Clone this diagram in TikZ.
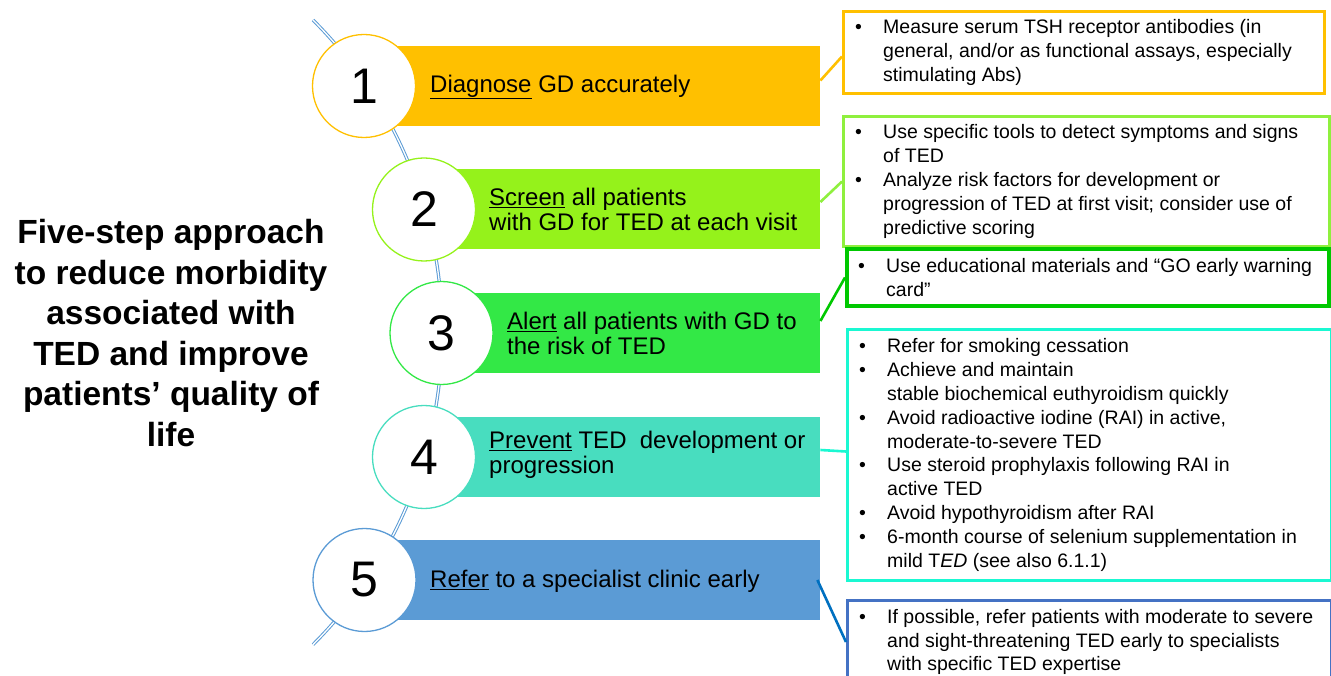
\documentclass[tikz,border=0pt]{standalone}
\usepackage{fontspec}
\setmainfont{Liberation Sans}
\usetikzlibrary{positioning}

\definecolor{diagorange}{HTML}{FFC000}
\definecolor{screengreen}{HTML}{95F21B}
\definecolor{screenline}{HTML}{8FF03E}
\definecolor{alertgreen}{HTML}{33E846}
\definecolor{alertline}{HTML}{00C800}
\definecolor{preventteal}{HTML}{48DDBF}
\definecolor{preventline}{HTML}{1AF8D2}
\definecolor{referblue}{HTML}{5B9BD5}
\definecolor{referline}{HTML}{4472C4}
\definecolor{referlink}{HTML}{0070C0}

\newcommand{\bul}{\makebox[28pt][l]{\textbullet}}
\newcommand{\ind}{\hspace*{28pt}}

\begin{document}
\begin{tikzpicture}[x=1pt,y=-1pt]
\tikzstyle{every node}+=[inner sep=0pt]
\tikzstyle{spine}=[draw=referblue, line width=1pt, double=white, double distance=1.3pt]
\tikzstyle{stepcircle}=[circle, fill=white, line width=1.3pt, minimum size=103pt, font=\fontsize{50}{50}\selectfont]
\tikzstyle{stepbar}=[rectangle, anchor=west, minimum height=80pt]
\tikzstyle{steptext}=[anchor=west, align=left, font=\fontsize{24}{25}\selectfont]
\tikzstyle{notebox}=[rectangle, anchor=north west, line width=3pt]
\tikzstyle{notetext}=[anchor=west, align=left, font=\fontsize{19.5}{23.8}\selectfont]
\tikzstyle{link}=[line width=2.6pt]
\useasboundingbox (0,0) rectangle (1331,676);

\node[font=\bfseries\fontsize{33.5}{40.6}\selectfont, align=center] (title) at (171,333) {Five-step approach\\to reduce morbidity\\associated with\\TED and improve\\patients’ quality of\\life};

\draw [spine] (313,20) .. controls (485.2,192.2) and (485.2,472.4) .. (313,644.6);

\node[stepbar, fill=diagorange, minimum width=456pt] (bar1) at (364,86.5) {};
\node[stepbar, fill=screengreen, minimum width=396pt] (bar2) at (424,209) {};
\node[stepbar, fill=alertgreen, minimum width=379pt] (bar3) at (441,333) {};
\node[stepbar, fill=preventteal, minimum width=396pt] (bar4) at (424,457) {};
\node[stepbar, fill=referblue, minimum width=456pt] (bar5) at (364,580) {};

\node[stepcircle, draw=diagorange] (step1) at (364,86) {1};
\node[stepcircle, draw=screengreen] (step2) at (424,209.5) {2};
\node[stepcircle, draw=alertgreen] (step3) at (441.5,333) {3};
\node[stepcircle, draw=preventteal] (step4) at (424,457) {4};
\node[stepcircle, draw=referblue] (step5) at (364.5,580) {5};

\node[steptext] (text1) at (430,87) {\underline{Diagnose} GD accurately};
\node[steptext] (text2) at (489,209) {\underline{Screen} all patients\\with GD for TED at each visit};
\node[steptext] (text3) at (507,333) {\underline{Alert} all patients with GD to\\the risk of TED};
\node[steptext] (text4) at (489,455) {\underline{Prevent} TED\ \ development or\\progression};
\node[steptext] (text5) at (430,581) {\underline{Refer} to a specialist clinic early};

\node[notebox, draw=diagorange, minimum width=481pt, minimum height=82pt] (note1) at (842,10) {};
\node[notebox, draw=screenline, minimum width=486pt, minimum height=130pt] (note2) at (842,115) {};
\node[notebox, draw=alertline, line width=4pt, minimum width=482pt, minimum height=57pt] (note3) at (845,247) {};
\node[notebox, draw=preventline, minimum width=484pt, minimum height=251pt] (note4) at (846,328) {};
\node[notebox, draw=referline, minimum width=484pt, minimum height=83pt] (note5) at (846,599) {};

\node[notetext] (list1) at ([xshift=13pt]note1.west) {\bul Measure serum TSH receptor antibodies (in\\\ind general, and/or as functional assays, especially\\\ind stimulating Abs)};
\node[notetext] (list2) at ([xshift=13pt]note2.west) {\bul Use specific tools to detect symptoms and signs\\\ind of TED\\\bul Analyze risk factors for development or\\\ind progression of TED at first visit; consider use of\\\ind predictive scoring};
\node[notetext] (list3) at ([xshift=13pt]note3.west) {\bul Use educational materials and “GO early warning\\\ind card”};
\node[notetext] (list4) at ([xshift=13pt]note4.west) {\bul Refer for smoking cessation\\\bul Achieve and maintain\\\ind stable biochemical euthyroidism quickly\\\bul Avoid radioactive iodine (RAI) in active,\\\ind moderate-to-severe TED\\\bul Use steroid prophylaxis following RAI in\\\ind active TED\\\bul Avoid hypothyroidism after RAI\\\bul 6-month course of selenium supplementation in\\\ind mild T\textit{ED} (see also 6.1.1)};
\node[notetext] (list5) at ([xshift=13pt]note5.west) {\bul If possible, refer patients with moderate to severe\\\ind and sight-threatening TED early to specialists\\\ind with specific TED expertise};

\draw [link, diagorange] ([yshift=6pt]bar1.east) -- ([yshift=-4pt]note1.west);
\draw [link, screenline] ([yshift=7pt]bar2.east) -- (note2.west);
\draw [link, alertline] ([yshift=12pt]bar3.east) -- (note3.west);
\draw [link, preventline] ([yshift=7pt]bar4.east) -- ([yshift=3.5pt]note4.west);
\draw [link, referlink] ([xshift=-3pt]bar5.east) -- (note5.west);
\end{tikzpicture}
\end{document}
